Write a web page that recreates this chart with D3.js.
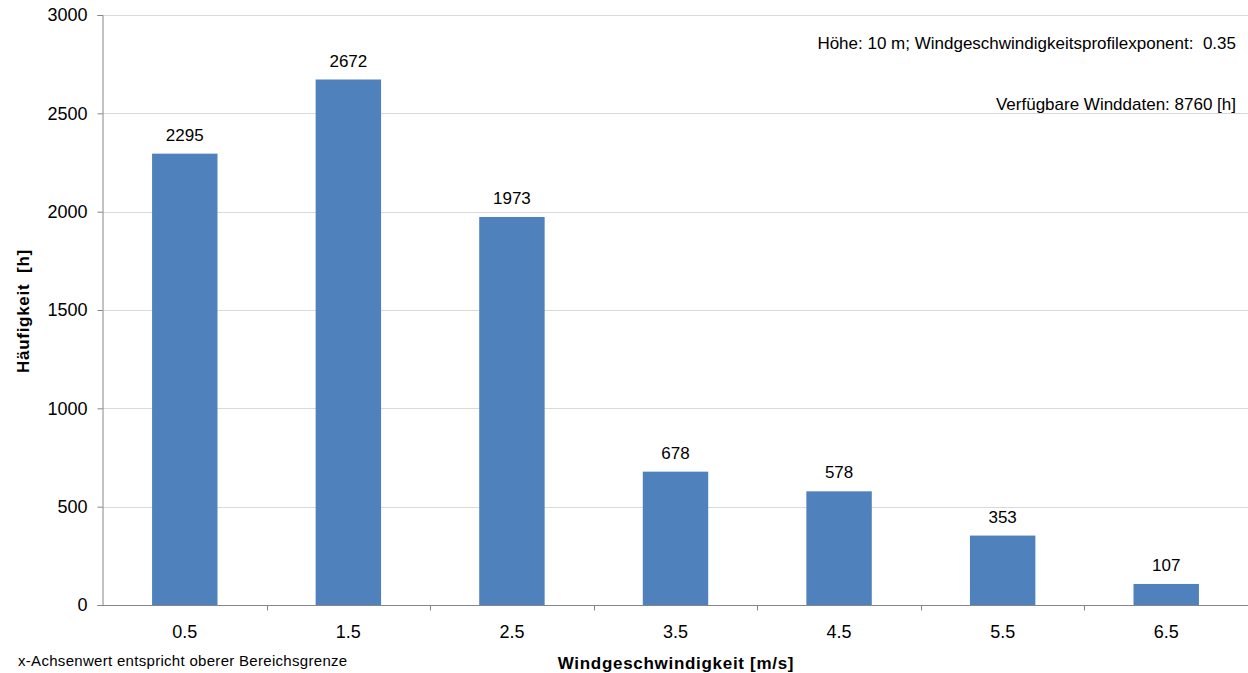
<!DOCTYPE html>
<html>
<head>
<meta charset="utf-8">
<script src="https://cdn.jsdelivr.net/npm/d3@7"></script>
<style>
  html, body { margin: 0; padding: 0; background: #fff; }
  svg { display: block; font-family: "Liberation Sans", Arial, sans-serif; }
</style>
</head>
<body>
<svg id="chart" width="1248" height="673"></svg>
<script>
// Wind speed classes (upper bin limit, m/s) and hours per class
const categories = ["0.5", "1.5", "2.5", "3.5", "4.5", "5.5", "6.5"];
const hours = [2295, 2672, 1973, 678, 578, 353, 107];
const yTicks = [0, 500, 1000, 1500, 2000, 2500, 3000];

const svg = d3.select("#chart");
const margin = { left: 102, right: 0, top: 15, bottom: 68 };
const W = 1248, H = 673;

const x = d3.scaleBand()
  .domain(categories)
  .range([margin.left + 1, W - margin.right])
  .paddingInner(0.6)
  .paddingOuter(0.3);

const y = d3.scaleLinear().domain([0, 3000]).range([H - margin.bottom, margin.top]);

// horizontal gridlines
svg.append("g")
  .selectAll("line")
  .data(yTicks.filter(d => d > 0))
  .join("line")
  .attr("x1", margin.left).attr("x2", W - margin.right)
  .attr("y1", d => Math.round(y(d)) + 0.5).attr("y2", d => Math.round(y(d)) + 0.5)
  .attr("stroke", "#d9d9d9").attr("stroke-width", 1);

// bars
svg.append("g")
  .selectAll("rect")
  .data(hours)
  .join("rect")
  .attr("x", (d, i) => x(categories[i]))
  .attr("width", x.bandwidth())
  .attr("y", d => y(d))
  .attr("height", d => y(0) - y(d))
  .attr("fill", "#4f81bd");

// value labels
svg.append("g")
  .selectAll("text")
  .data(hours)
  .join("text")
  .attr("x", (d, i) => x(categories[i]) + x.bandwidth() / 2)
  .attr("y", d => y(d) - 13)
  .attr("text-anchor", "middle")
  .attr("font-size", 17)
  .attr("fill", "#000")
  .text(d => d);

// y axis
const yAxis = d3.axisLeft(y).tickValues(yTicks).tickFormat(d3.format("d")).tickSize(5).tickPadding(10);
const gy = svg.append("g")
  .attr("transform", `translate(${margin.left + 0.5},0)`)
  .call(yAxis);
gy.select(".domain").attr("stroke", "#868686");
gy.selectAll(".tick line").attr("stroke", "#868686");
gy.selectAll(".tick text").attr("font-size", 18).attr("fill", "#000")
  .attr("font-family", "Liberation Sans, Arial, sans-serif");

// x axis: line along zero with ticks between classes
const gx = svg.append("g").attr("transform", `translate(0,${Math.round(y(0)) + 0.5})`);
gx.append("line")
  .attr("x1", margin.left).attr("x2", W - margin.right)
  .attr("stroke", "#868686");
const step = x.step();
const boundaries = d3.range(1, categories.length)
  .map(i => x(categories[i]) - step * x.paddingInner() / 2);
gx.selectAll("line.tk")
  .data(boundaries)
  .join("line")
  .attr("class", "tk")
  .attr("x1", d => Math.round(d) + 0.5).attr("x2", d => Math.round(d) + 0.5)
  .attr("y1", 0).attr("y2", 5)
  .attr("stroke", "#868686");
gx.selectAll("text")
  .data(categories)
  .join("text")
  .attr("x", d => x(d) + x.bandwidth() / 2)
  .attr("y", 32)
  .attr("text-anchor", "middle")
  .attr("font-size", 18)
  .attr("fill", "#000")
  .text(d => d);

// axis titles
svg.append("text")
  .attr("x", 676).attr("y", 669)
  .attr("text-anchor", "middle")
  .attr("font-size", 17).attr("font-weight", "bold")
  .attr("letter-spacing", 0.7)
  .text("Windgeschwindigkeit [m/s]");

svg.append("text")
  .attr("transform", "translate(29,311) rotate(-90)")
  .attr("text-anchor", "middle")
  .attr("font-size", 17).attr("font-weight", "bold")
  .attr("letter-spacing", 0.7)
  .attr("xml:space", "preserve")
  .text("Häufigkeit  [h]");

// notes
svg.append("text")
  .attr("x", 18).attr("y", 666)
  .attr("font-size", 15)
  .attr("letter-spacing", 0.3)
  .text("x-Achsenwert entspricht oberer Bereichsgrenze");

svg.append("text")
  .attr("x", 1236).attr("y", 49)
  .attr("text-anchor", "end")
  .attr("font-size", 17)
  .attr("xml:space", "preserve")
  .text("Höhe: 10 m; Windgeschwindigkeitsprofilexponent:  0.35");

svg.append("text")
  .attr("x", 1236).attr("y", 110)
  .attr("text-anchor", "end")
  .attr("font-size", 17)
  .text("Verfügbare Winddaten: 8760 [h]");
</script>
</body>
</html>
